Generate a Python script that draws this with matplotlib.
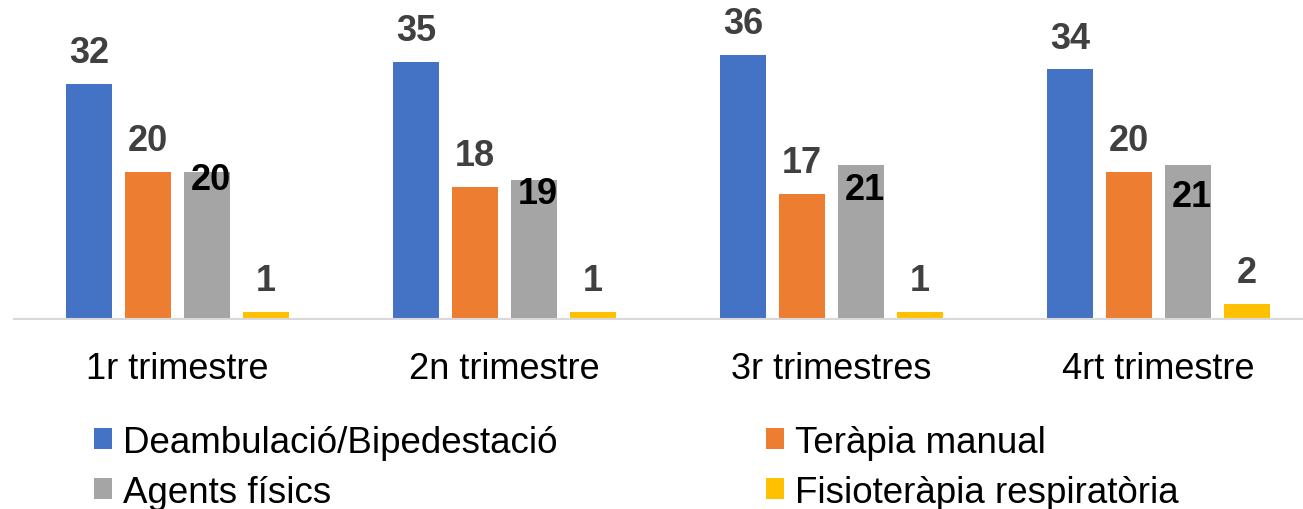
import numpy as np
import matplotlib.pyplot as plt
from matplotlib.patches import Patch

categories = ["1r trimestre", "2n trimestre", "3r trimestres", "4rt trimestre"]
series_names = ["Deambulació/Bipedestació", "Teràpia manual",
                "Agents físics", "Fisioteràpia respiratòria"]
deambulacio = [32, 35, 36, 34]
terapia_manual = [20, 18, 17, 20]
agents_fisics = [20, 19, 21, 21]
fisio_respiratoria = [1, 1, 1, 2]

colors = ["#4472C4", "#ED7D31", "#A5A5A5", "#FFC000"]
# the grey series labels were nudged by hand inside the bars (points below top)
grey_label_drop = [-5, -10, -18, -23]


def main():
    plt.rcParams["font.family"] = ["Liberation Sans", "DejaVu Sans"]
    fig = plt.figure(figsize=(13.03, 5.10), dpi=100)
    # axes run past the right edge, like the original export
    ax = fig.add_axes([14 / 1303, 190 / 510, 1308 / 1303, 320 / 510])

    values = [deambulacio, terapia_manual, agents_fisics, fisio_respiratoria]
    x = np.arange(len(categories))
    width = 46 / 327
    step = 59 / 327

    for i, (vals, color) in enumerate(zip(values, colors)):
        pos = x + (i - 1.5) * step
        bars = ax.bar(pos, vals, width=width, color=color, zorder=2)
        if i == 2:
            for bar, v, drop in zip(bars, vals, grey_label_drop):
                ax.annotate(str(v), (bar.get_x() + bar.get_width() / 2, v),
                            xytext=(3, drop), textcoords="offset points",
                            ha="center", va="center", fontsize=26,
                            fontweight="bold", color="black")
        else:
            for bar, v in zip(bars, vals):
                ax.annotate(str(v), (bar.get_x() + bar.get_width() / 2, v),
                            xytext=(0, 10), textcoords="offset points",
                            ha="center", va="bottom", fontsize=26,
                            fontweight="bold", color="#404040")

    ax.set_xlim(-0.5, len(categories) - 0.5)
    ax.set_ylim(0, 320 / 7.34)
    ax.set_xticks(x)
    ax.set_xticklabels(categories, fontsize=26)
    ax.tick_params(axis="x", length=0, pad=23)
    ax.set_yticks([])
    for side in ["top", "right", "left"]:
        ax.spines[side].set_visible(False)
    ax.spines["bottom"].set_color("#D9D9D9")
    ax.spines["bottom"].set_linewidth(1.5)

    # legend fills column-wise, so reorder to get the original row layout
    order = [0, 2, 1, 3]
    handles = [Patch(facecolor=colors[k], edgecolor="none") for k in order]
    labels = [series_names[k] for k in order]
    fig.legend(handles, labels, loc="upper left",
               bbox_to_anchor=(94 / 1303, 1 - 426 / 510), ncol=2,
               fontsize=26.5, frameon=False, handlelength=0.5,
               handleheight=0.5, handletextpad=0.3, labelspacing=0.4,
               columnspacing=5.65, borderpad=0, borderaxespad=0)

    fig.savefig("out.png", dpi=100)


if __name__ == "__main__":
    main()
